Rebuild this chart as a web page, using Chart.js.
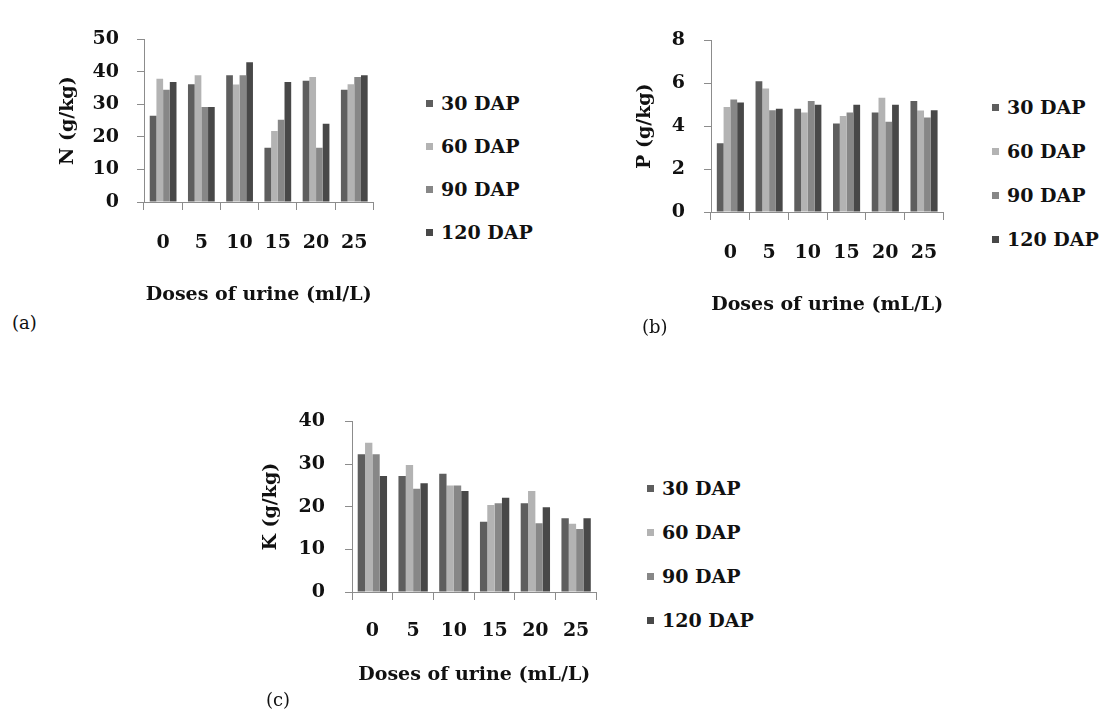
<!DOCTYPE html>
<html>
<head>
<meta charset="utf-8">
<script src="https://cdn.jsdelivr.net/npm/chart.js@4.4.1/dist/chart.umd.min.js"></script>
<style>
  body { margin: 0; background: #fff; width: 1110px; height: 718px; position: relative; overflow: hidden; }
  canvas { position: absolute; }
  .legend { position: absolute; font: bold 19px "DejaVu Serif"; color: #111; }
  .legend .item { height: 44px; line-height: 44px; white-space: nowrap; }
  #legN .item { height: 43px; line-height: 43px; }
  .legend .box { display: inline-block; width: 7px; height: 7px; margin-right: 8px; vertical-align: middle; position: relative; top: -2px; }
  .tag { position: absolute; font: 18px "DejaVu Serif"; color: #111; }
</style>
</head>
<body>
<canvas id="chartN" width="350" height="310" style="left:40px;top:10px"></canvas>
<canvas id="chartP" width="340" height="320" style="left:620px;top:10px"></canvas>
<canvas id="chartK" width="370" height="310" style="left:240px;top:390px"></canvas>
<div id="legN" class="legend" style="left:426px;top:82px"></div>
<div id="legP" class="legend" style="left:992px;top:85px"></div>
<div id="legK" class="legend" style="left:647px;top:466px"></div>
<div class="tag" style="left:12px;top:312px">(a)</div>
<div class="tag" style="left:642px;top:316px">(b)</div>
<div class="tag" style="left:266px;top:689px">(c)</div>

<script>
// dosi di urina (asse x)
const dosi = ['0', '5', '10', '15', '20', '25'];
const serie = ['30 DAP', '60 DAP', '90 DAP', '120 DAP'];
const colori = ['#5e5e5e', '#b3b3b3', '#878787', '#484848'];

// N (g/kg)
const n30 = [26.5, 36.2, 39.0, 16.7, 37.3, 34.5];
const n60 = [37.9, 39.0, 36.1, 21.8, 38.4, 36.2];
const n90 = [34.5, 29.2, 39.0, 25.3, 16.7, 38.4];
const n120 = [36.9, 29.2, 43.0, 36.9, 24.1, 39.0];

// P (g/kg)
const p30 = [3.21, 6.10, 4.81, 4.13, 4.64, 5.17];
const p60 = [4.90, 5.76, 4.64, 4.47, 5.33, 4.73];
const p90 = [5.24, 4.74, 5.17, 4.64, 4.21, 4.40];
const p120 = [5.10, 4.81, 5.00, 5.00, 5.00, 4.74];

// K (g/kg)
const k30 = [32.3, 27.2, 27.7, 16.5, 20.8, 17.3];
const k60 = [35.0, 29.8, 25.0, 20.4, 23.7, 16.0];
const k90 = [32.3, 24.2, 25.0, 20.8, 16.1, 14.8];
const k120 = [27.2, 25.5, 23.7, 22.1, 19.9, 17.3];

const fontBold = { family: 'DejaVu Serif', size: 19, weight: 'bold' };
const grigio = '#8c8c8c';

// legenda in HTML, costruita dai dataset del grafico
const htmlLegend = {
    id: 'htmlLegend',
    afterUpdate(chart, args, opts) {
        const box = document.getElementById(opts.containerID);
        box.innerHTML = '';
        chart.options.plugins.legend.labels.generateLabels(chart).forEach(item => {
            const row = document.createElement('div');
            row.className = 'item';
            const sw = document.createElement('span');
            sw.className = 'box';
            sw.style.background = item.fillStyle;
            const txt = document.createElement('span');
            txt.textContent = item.text;
            row.append(sw, txt);
            box.appendChild(row);
        });
    }
};

function disegna(id, legId, valori, yTitolo, xTitolo, yMax, passo, g) {
    const ctx = document.getElementById(id).getContext('2d');
    return new Chart(ctx, {
        type: 'bar',
        data: {
            labels: dosi,
            datasets: valori.map((v, i) => ({
                label: serie[i],
                data: v,
                backgroundColor: colori[i],
                borderWidth: 0,
                barPercentage: 1.0,
                categoryPercentage: g.cat
            }))
        },
        plugins: [htmlLegend],
        options: {
            responsive: false,
            animation: false,
            layout: { padding: { top: g.top, right: g.right, left: 0, bottom: 0 } },
            plugins: {
                legend: { display: false },
                tooltip: { enabled: false },
                htmlLegend: { containerID: legId }
            },
            scales: {
                x: {
                    grid: { drawOnChartArea: false, color: grigio, tickLength: 8 },
                    border: { color: grigio },
                    ticks: { font: fontBold, color: '#111', padding: g.xPad, maxRotation: 0 },
                    title: { display: true, text: xTitolo, font: fontBold, color: '#111', padding: { top: 0, bottom: g.xTitPad } },
                    afterFit: s => { s.height = g.xH; }
                },
                y: {
                    min: 0,
                    max: yMax,
                    ticks: { stepSize: passo, font: fontBold, color: '#111', padding: g.yPad },
                    grid: { drawOnChartArea: false, color: grigio, tickLength: 7 },
                    border: { color: grigio },
                    title: { display: true, text: yTitolo, font: fontBold, color: '#111', padding: { top: g.yTitPad, bottom: 0 } },
                    afterFit: s => { s.width = g.yW; }
                }
            }
        }
    });
}

disegna('chartN', 'legN', [n30, n60, n90, n120], 'N (g/kg)', 'Doses of urine (ml/L)', 50, 10,
    { cat: 0.7, top: 15, right: 6, yW: 104, xH: 118, yPad: 18, xPad: 22, yTitPad: 17, xTitPad: 14 });
disegna('chartP', 'legP', [p30, p60, p90, p120], 'P (g/kg)', 'Doses of urine (mL/L)', 8, 2,
    { cat: 0.7, top: 15, right: 9, yW: 91, xH: 118, yPad: 19, xPad: 22, yTitPad: 14, xTitPad: 14 });
disegna('chartK', 'legK', [k30, k60, k90, k120], 'K (g/kg)', 'Doses of urine (mL/L)', 40, 10,
    { cat: 0.72, top: 16, right: 8, yW: 112, xH: 108, yPad: 20, xPad: 20, yTitPad: 20, xTitPad: 14 });
</script>
</body>
</html>
